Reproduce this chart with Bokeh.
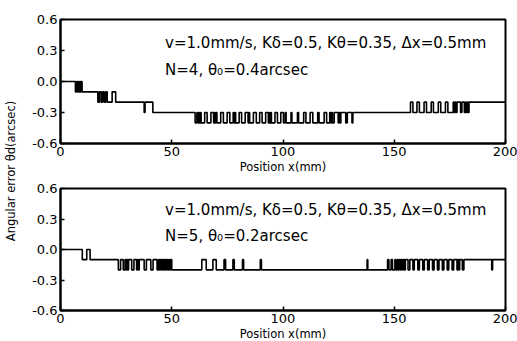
import math
from bokeh.plotting import figure
from bokeh.layouts import row, column
from bokeh.models import Label, FixedTicker, NumeralTickFormatter, Range1d
from bokeh.embed import file_html
from bokeh.resources import INLINE

# ---- data (step functions: position where each level starts, level) ----
top_x = [0, 6.7, 7.2, 7.6, 8.0, 8.3, 8.7, 9.0, 9.3, 9.7,
         16.8, 17.5, 18.3, 18.9, 19.6, 20.3, 21.0, 23.2, 24.8,
         37.6, 38.0, 41.5,
         60.5, 61.3, 61.8, 62.2, 62.5, 62.9, 63.2, 64.8, 65.9, 67.6, 68.8, 69.2, 69.5, 69.9,
         70.3, 72.0, 73.2, 74.9, 76.1, 77.6, 78.0, 78.4, 78.7, 80.3, 81.4, 83.0, 84.3, 84.7,
         85.0, 86.7, 88.0, 89.5, 90.6, 92.2, 93.4, 93.8, 94.1, 94.5, 94.8, 96.4, 97.5, 99.0,
         100.2, 101.0, 101.4, 103.6, 104.0, 106.5, 107.0, 109.3, 110.3, 112.2, 113.4, 115.6,
         116.2, 118.5, 119.6, 121.0, 121.4, 121.8, 122.2, 123.0, 124.8, 125.2, 125.6, 126.0,
         128.2, 128.9, 131.0, 131.4,
         157.3, 158.4, 160.2, 161.3, 163.4, 164.5, 166.6, 167.6, 169.8, 170.9, 173.0, 174.1,
         176.5, 177.0, 177.4, 177.8, 178.2, 179.8, 180.4, 181.5, 182.0, 182.4, 182.8, 183.2,
         183.6, 200]
top_y = [0.0, -0.1, 0.0, -0.1, 0.0, -0.1, 0.0, -0.1, 0.0, -0.1,
         -0.2, -0.1, -0.2, -0.1, -0.2, -0.1, -0.2, -0.1, -0.2,
         -0.3, -0.2, -0.3,
         -0.4, -0.3, -0.4, -0.3, -0.4, -0.3, -0.4, -0.3, -0.4, -0.3, -0.4, -0.3, -0.4, -0.3,
         -0.4, -0.3, -0.4, -0.3, -0.4, -0.3, -0.4, -0.3, -0.4, -0.3, -0.4, -0.3, -0.4, -0.3,
         -0.4, -0.3, -0.4, -0.3, -0.4, -0.3, -0.4, -0.3, -0.4, -0.3, -0.4, -0.3, -0.4, -0.3,
         -0.4, -0.3, -0.4, -0.3, -0.4, -0.3, -0.4, -0.3, -0.4, -0.3, -0.4, -0.3,
         -0.4, -0.3, -0.4, -0.3, -0.4, -0.3, -0.4, -0.3, -0.4, -0.3, -0.4, -0.3,
         -0.4, -0.3, -0.4, -0.3,
         -0.2, -0.3, -0.2, -0.3, -0.2, -0.3, -0.2, -0.3, -0.2, -0.3, -0.2, -0.3,
         -0.2, -0.3, -0.2, -0.3, -0.2, -0.3, -0.2, -0.3, -0.2, -0.3, -0.2, -0.3,
         -0.2, -0.2]

bot_x = [0, 9.8, 11.8, 13.3,
         26.0, 27.0, 28.2, 29.0, 29.4, 29.8, 30.2, 30.6, 32.0, 33.0, 34.2, 34.6, 35.0, 35.4,
         37.6, 38.6, 40.6, 41.6, 43.4, 44.0, 44.4, 44.8, 45.2, 45.6, 46.0, 46.4, 46.8, 47.2,
         47.6, 48.0, 48.4, 48.8, 49.2, 49.6, 50.0,
         63.5, 65.5, 68.5, 70.0, 73.5, 74.2, 77.5, 78.1, 81.8, 82.3, 89.8, 90.3,
         137.8, 138.1,
         147.0, 147.6, 148.6, 149.2, 150.3, 150.8, 151.4, 151.8, 152.3, 152.7, 153.1, 153.6,
         154.0, 154.5, 155.0, 156.2, 157.0, 158.4, 159.0, 160.6, 161.3, 162.8, 163.5, 165.0,
         165.7, 167.2, 167.9, 169.4, 170.1, 171.6, 172.3, 173.8, 174.5, 176.0, 176.7, 178.2,
         178.6, 179.0, 179.4, 180.6, 181.3, 193.8, 194.2, 200]
bot_y = [0.0, -0.1, 0.0, -0.1,
         -0.2, -0.1, -0.2, -0.1, -0.2, -0.1, -0.2, -0.1, -0.2, -0.1, -0.2, -0.1, -0.2, -0.1,
         -0.2, -0.1, -0.2, -0.1, -0.2, -0.1, -0.2, -0.1, -0.2, -0.1, -0.2, -0.1, -0.2, -0.1,
         -0.2, -0.1, -0.2, -0.1, -0.2, -0.1, -0.2,
         -0.1, -0.2, -0.1, -0.2, -0.1, -0.2, -0.1, -0.2, -0.1, -0.2, -0.1, -0.2,
         -0.1, -0.2,
         -0.1, -0.2, -0.1, -0.2, -0.1, -0.2, -0.1, -0.2, -0.1, -0.2, -0.1, -0.2,
         -0.1, -0.2, -0.1, -0.2, -0.1, -0.2, -0.1, -0.2, -0.1, -0.2, -0.1, -0.2,
         -0.1, -0.2, -0.1, -0.2, -0.1, -0.2, -0.1, -0.2, -0.1, -0.2, -0.1, -0.2,
         -0.1, -0.2, -0.1, -0.2, -0.1, -0.2, -0.1, -0.1]

x_ticks = [0, 50, 100, 150, 200]
y_ticks = [-0.6, -0.3, 0.0, 0.3, 0.6]
x_label = "Position x(mm)"
y_label = "Angular error θd(arcsec)"
params_text = "v=1.0mm/s, Kδ=0.5, Kθ=0.35, Δx=0.5mm"
top_note = "N=4, θ₀=0.4arcsec"
bot_note = "N=5, θ₀=0.2arcsec"

FONT = "DejaVu Sans"


def make_panel(xs, ys, note, frame_h, border_top, note_y1, note_y2):
    p = figure(frame_width=445, frame_height=frame_h, output_backend="svg",
               toolbar_location=None,
               x_range=Range1d(0, 200), y_range=Range1d(-0.6, 0.6),
               min_border_left=40, min_border_right=12,
               min_border_top=border_top, min_border_bottom=0)
    p.step(xs, ys, mode="after", line_color="black", line_width=1.6)
    p.grid.visible = False
    p.outline_line_color = "black"
    p.outline_line_width = 2
    for ax in (p.xaxis[0], p.yaxis[0]):
        ax.axis_line_width = 2
        ax.axis_line_color = "black"
        ax.major_tick_in = 4
        ax.major_tick_out = 0
        ax.minor_tick_in = 0
        ax.minor_tick_out = 0
        ax.major_tick_line_width = 1.5
        ax.major_tick_line_color = "black"
        ax.major_label_text_font = FONT
        ax.major_label_text_font_size = "13px"
        ax.major_label_text_color = "black"
        ax.major_label_standoff = 3
    p.xaxis.ticker = FixedTicker(ticks=x_ticks)
    p.yaxis.ticker = FixedTicker(ticks=y_ticks)
    p.yaxis.formatter = NumeralTickFormatter(format="0.0")
    p.xaxis.axis_label = x_label
    p.xaxis.axis_label_text_font = FONT
    p.xaxis.axis_label_text_font_size = "11.5px"
    p.xaxis.axis_label_text_font_style = "normal"
    p.xaxis.axis_label_text_color = "black"
    p.xaxis.axis_label_standoff = 1
    p.add_layout(Label(x=47, y=note_y1, text=params_text, text_font=FONT,
                       text_font_size="15px", text_baseline="middle", text_color="black"))
    p.add_layout(Label(x=47, y=note_y2, text=note, text_font=FONT,
                       text_font_size="15px", text_baseline="middle", text_color="black"))
    return p


top = make_panel(top_x, top_y, top_note, 124, 19, 0.37, 0.11)
bot = make_panel(bot_x, bot_y, bot_note, 122, 12, 0.39, 0.13)

lab = figure(width=20, height=341, output_backend="svg", toolbar_location=None,
             x_range=Range1d(0, 1), y_range=Range1d(0, 1),
             min_border=0, outline_line_color=None)
lab.axis.visible = False
lab.grid.visible = False
lab.add_layout(Label(x=0.5, y=0.5, text=y_label, angle=math.pi / 2, text_font=FONT,
                     text_font_size="11.5px", text_align="center", text_baseline="middle",
                     text_color="black"))

layout = row(lab, column(top, bot, spacing=0), spacing=0)
open("out.html", "w").write(file_html(layout, INLINE))
